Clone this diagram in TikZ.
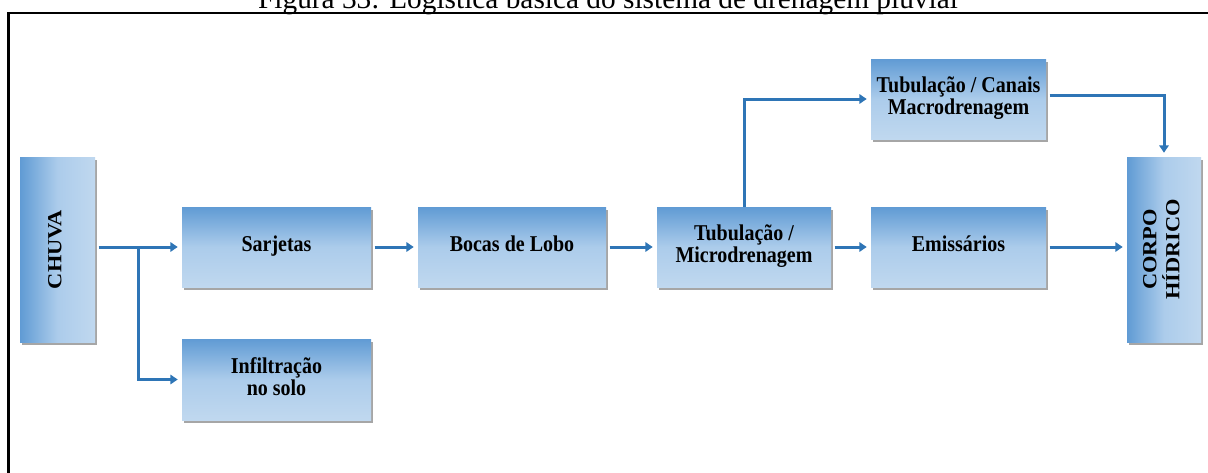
\documentclass[tikz,border=0pt]{standalone}
\usepackage{fontspec}
\setmainfont{Liberation Serif}
\usetikzlibrary{arrows.meta,shadows,calc}
\definecolor{arrblue}{RGB}{46,117,182}
\definecolor{boxdark}{RGB}{96,155,212}
\definecolor{boxmid}{RGB}{172,204,235}
\definecolor{boxlight}{RGB}{192,216,239}
\newcommand{\htxt}[1]{\scalebox{1}[1.13]{\begin{tabular}{@{}c@{}}#1\end{tabular}}}
\newcommand{\vtxt}[1]{\rotatebox{90}{\scalebox{1.12}[1]{\begin{tabular}{@{}c@{}}#1\end{tabular}}}}
\tikzset{
  boxbase/.style={inner sep=0pt, align=center,
    font=\fontsize{15}{14.6}\selectfont\bfseries,
    drop shadow={shadow xshift=1.5pt, shadow yshift=-2pt, fill=black, opacity=0.35}},
  hbox/.style={boxbase, top color=boxdark, bottom color=boxlight, middle color=boxmid},
  vbox/.style={boxbase, left color=boxdark, right color=boxlight, middle color=boxmid},
  flow/.style={draw=arrblue, line width=2.25pt,
    -{Triangle[length=5.5pt,width=7pt]}, shorten >=3pt, shorten <=2.5pt},
  frameline/.style={line width=1.6pt, draw=black}
}
\begin{document}
\begin{tikzpicture}[x=0.75pt,y=-0.75pt]
\useasboundingbox (0,0) rectangle (1208,472);
\fill[white] (0,0) rectangle (1208,472);
% title (cut at the top of the page, as in the reference)
\node[anchor=base, font=\fontsize{22}{24}\selectfont, inner sep=0pt] (title) at (608,8)
  {Figura 33: Logística básica do sistema de drenagem pluvial};
% frame
\draw[frameline] (8.5,490) -- (8.5,13) -- (1230,13);
% boxes
\node[vbox, minimum width=56.25pt, minimum height=138.75pt] (chuva) at (57.5,249.5)
  {\vtxt{CHUVA}};
\node[hbox, minimum width=141.75pt, minimum height=60pt] (sarj) at (276.5,247) {\htxt{Sarjetas}};
\node[hbox, minimum width=141.75pt, minimum height=60.75pt] (infil) at (276.5,379.5) {\htxt{Infiltração\\no solo}};
\node[hbox, minimum width=141pt, minimum height=60pt] (bocas) at (512,247) {\htxt{Bocas de Lobo}};
\node[hbox, minimum width=130.5pt, minimum height=60pt] (micro) at (744,247) {\htxt{Tubulação /\\Microdrenagem}};
\node[hbox, minimum width=131.25pt, minimum height=60pt] (emis) at (958.5,247) {\htxt{Emissários}};
\node[hbox, minimum width=131.25pt, minimum height=60pt] (macro) at (958.5,99) {\htxt{Tubulação / Canais\\Macrodrenagem}};
\node[vbox, minimum width=55.5pt, minimum height=138.75pt] (corpo) at (1164,249.5)
  {\vtxt{CORPO\\HÍDRICO}};
% connectors
\coordinate (split) at (138,247);
\draw[flow] (chuva.east |- sarj.west) -- (sarj.west);
\draw[flow, shorten <=0pt] (split) |- (infil.west);
\draw[flow] (sarj) -- (bocas);
\draw[flow] (bocas) -- (micro);
\draw[flow] (micro) -- (emis);
\draw[flow] (emis.east) -- (corpo.west |- emis.east);
\draw[flow, shorten <=0pt] (micro.north) |- (macro.west);
\draw[flow] ([yshift=3pt]macro.east) -| (corpo.north);
\end{tikzpicture}
\end{document}
